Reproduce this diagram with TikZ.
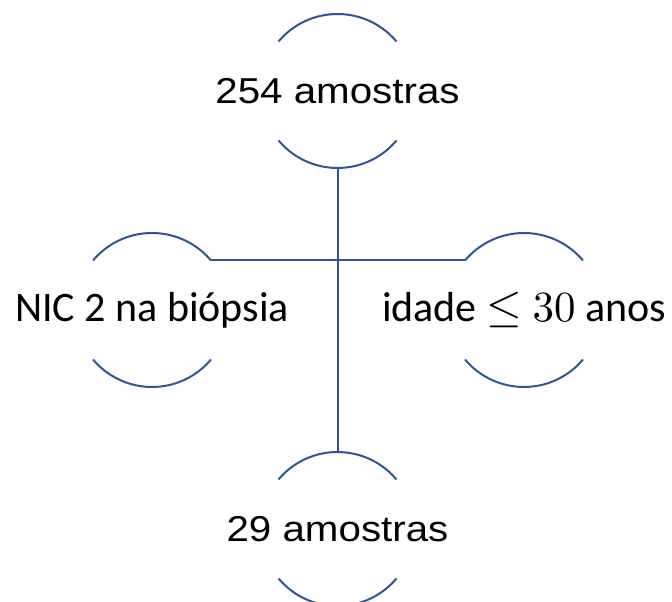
\documentclass[tikz,border=0pt]{standalone}
\usepackage{fontspec}
\setmainfont{Carlito}
\newfontfamily\arialf{Liberation Sans}
\usepackage{graphicx}
\definecolor{lineblue}{RGB}{47,85,151}
\newcommand{\bigmath}[2]{\scalebox{#1}{\fontsize{10}{12}\selectfont$#2$}}
\begin{document}
\begin{tikzpicture}[x=1pt,y=1pt,
  ring/.style={circle,minimum size=154pt,inner sep=0pt,outer sep=0pt},
  conn/.style={draw=lineblue,line width=2pt},
  calib/.style={font=\fontsize{42}{50}\selectfont,inner sep=0pt},
  arialtxt/.style={font=\arialf\fontsize{36}{44}\selectfont,inner sep=0pt}]
\useasboundingbox (0,0) rectangle (672,602);
% rings
\node[ring] (tring) at (337.5,511) {};
\node[ring] (lring) at (152,292) {};
\node[ring] (rring) at (524,292) {};
\node[ring] (bring) at (337.5,73) {};
% arcs
\foreach \r in {tring,lring,rring,bring}{
  \draw[conn] (\r.40) arc (40:140:77);
  \draw[conn] (\r.220) arc (220:320:77);
}
% texts
\node[arialtxt] (ttxt) at (tring.center) {\scalebox{1.12}[1]{254 amostras}};
\node[calib] (ltxt) at (lring.center) {NIC 2 na biópsia};
\node[calib] (rtxt) at (rring.center) {idade \bigmath{4.6}{\leq}\hspace{0.25em}\bigmath{4.3}{30} anos};
\node[arialtxt] (btxt) at (bring.center) {\scalebox{1.12}[1]{29 amostras}};
% connectors
\draw[conn] (tring.270) -- (bring.90);
\draw[conn] (lring.40) -- (rring.140);
\end{tikzpicture}
\end{document}
